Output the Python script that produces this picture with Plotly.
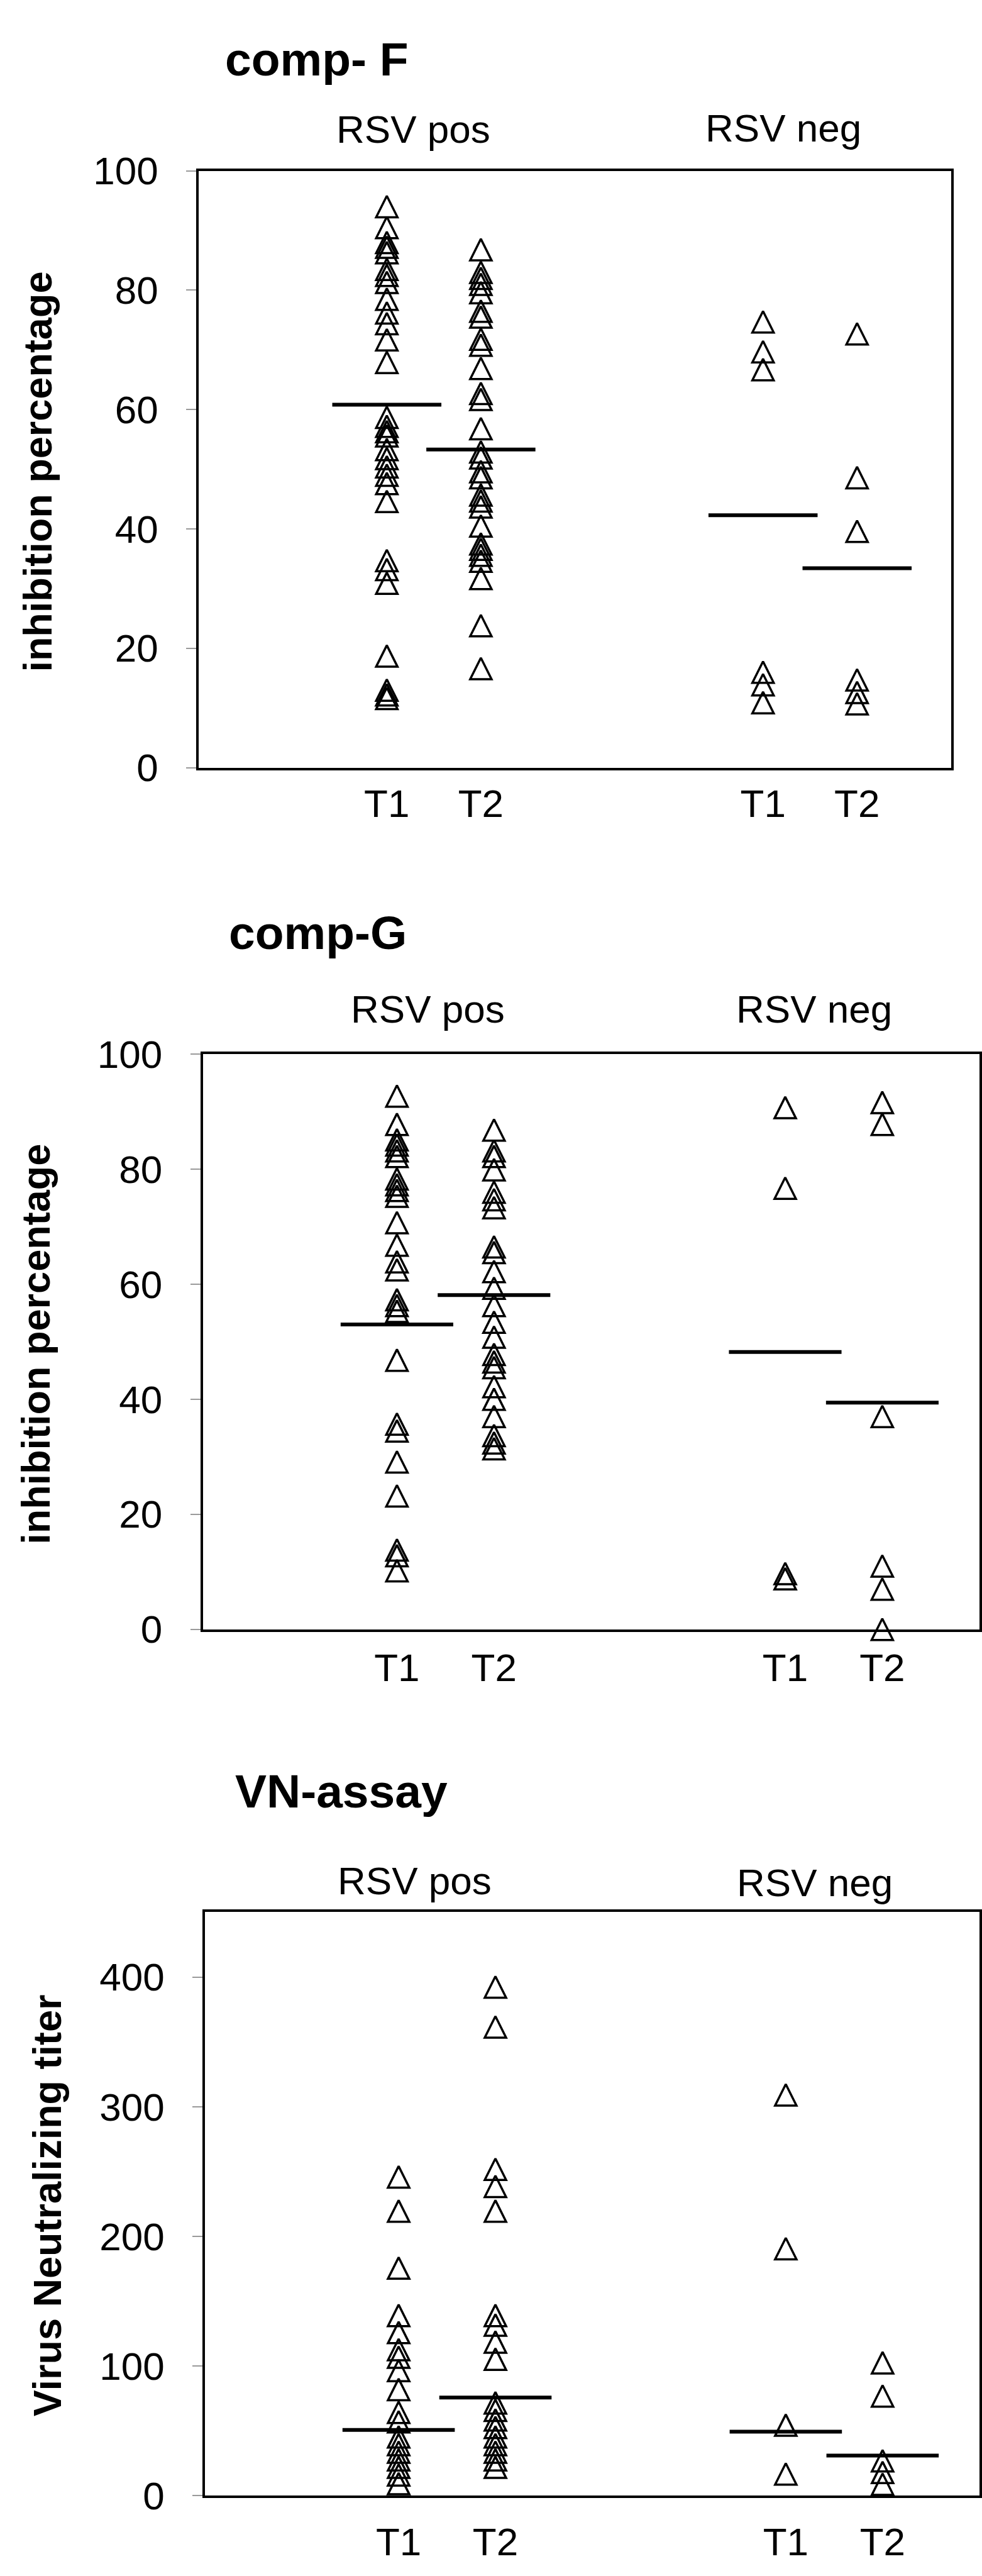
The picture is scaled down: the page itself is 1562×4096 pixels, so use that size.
import plotly.graph_objects as go

# ---------------- data ----------------
positions = [1, 2, 5, 6]
tick_text = ["T1", "T2", "T1", "T2"]
group_labels = ["RSV pos", "RSV neg"]
panel_titles = ["comp- F", "comp-G", "VN-assay"]
y_titles = ["inhibition percentage", "inhibition percentage", "Virus Neutralizing titer"]

# comp- F (inhibition percentage)
compF_T1_pos = [94.0, 90.5, 88.0, 87.2, 86.3, 83.5, 82.5, 81.3, 78.5, 76.2, 74.4, 71.7, 67.9,
                58.7, 57.2, 56.3, 55.6, 53.3, 51.8, 50.4, 49.0, 47.6, 44.6, 34.7, 33.2, 30.9,
                18.7, 13.0, 12.2, 11.6]
compF_T2_pos = [86.8, 83.0, 82.0, 81.0, 79.6, 76.5, 75.5, 71.8, 70.8, 66.9, 62.7, 61.7, 56.8,
                52.9, 51.9, 49.6, 48.6, 45.7, 44.7, 43.7, 40.5, 37.5, 36.6, 35.6, 34.6, 31.7,
                23.8, 16.6]
compF_T1_neg = [74.7, 69.7, 66.7, 16.0, 13.9, 10.9]
compF_T2_neg = [72.7, 48.6, 39.6, 14.7, 12.6, 10.7]
compF_means = [60.8, 53.3, 42.3, 33.4]

# comp-G (inhibition percentage)
compG_T1_pos = [92.7, 87.8, 85.1, 84.2, 83.2, 82.2, 78.3, 77.3, 76.3, 75.3, 70.7, 66.8, 63.9,
                62.5, 57.3, 56.3, 55.3, 46.8, 35.7, 34.5, 29.1, 23.2, 13.8, 12.8, 10.2]
compG_T2_pos = [86.8, 83.2, 82.2, 79.9, 76.0, 74.7, 73.3, 66.5, 65.5, 62.2, 59.3, 56.3, 53.4,
                50.8, 47.8, 46.5, 45.5, 42.2, 40.0, 37.0, 33.7, 32.4, 31.4]
compG_T1_neg = [90.7, 76.7, 9.7, 8.8]
compG_T2_neg = [91.6, 87.8, 37.0, 11.0, 7.0, 0.0]
compG_means = [53.0, 58.1, 48.2, 39.4]

# VN-assay (virus neutralizing titer)
vn_T1_pos = [245.9, 219.6, 175.6, 139.1, 125.9, 112.7, 106.9, 96.6, 82.0, 64.4, 57.1, 45.4,
             39.5, 33.7, 27.8, 22.0, 16.1, 9.4]
vn_T2_pos = [392.3, 361.5, 251.8, 238.6, 219.6, 139.1, 131.7, 118.6, 105.4, 71.7, 65.9, 58.5,
             52.7, 45.4, 39.5, 33.7, 27.8, 22.0]
vn_T1_neg = [309.1, 190.6, 54.5, 16.8]
vn_T2_neg = [102.6, 77.0, 27.0, 18.0, 9.0]
vn_means = [50.8, 75.8, 49.5, 31.0]

panels = [
    dict(groups=[compF_T1_pos, compF_T2_pos, compF_T1_neg, compF_T2_neg], means=compF_means,
         yrange=[0, 100], dtick=20),
    dict(groups=[compG_T1_pos, compG_T2_pos, compG_T1_neg, compG_T2_neg], means=compG_means,
         yrange=[0, 100], dtick=20),
    dict(groups=[vn_T1_pos, vn_T2_pos, vn_T1_neg, vn_T2_neg], means=vn_means,
         yrange=[0, 450], dtick=100),
]

# ---------------- geometry / style (pixels in the 1562x4096 page) ----------------
W, H = 1562, 4096
FONT = "Liberation Sans, Arial, Helvetica, sans-serif"
boxes = [  # left, right, top, bottom
    (316.7, 1515.8, 241.7, 1206.9),
    (323.2, 1560.8, 1670.2, 2600.5),
    (326.8, 1560.8, 3058.0, 4001.9),
]
title_pos = [(357, 61.5), (363, 1473.6), (373, 2862)]
ytitle_pos = [(60, 728), (57, 2139), (75, 3532)]
group_label_pos = [[(659, 174), (1248, 172)], [(682, 1597), (1297, 1597)], [(661, 3007), (1298, 3010)]]
xlabel_standoff = [0, 4, 16]
MEAN_HALF = 0.58
MS = 34
MLW = 3.5


def px(x):
    return x / W


def py(y):
    return 1 - y / H


fig = go.Figure()
annotations = []
layout_axes = {}

for i, p in enumerate(panels):
    sfx = "" if i == 0 else str(i + 1)
    xa, ya = "x" + sfx, "y" + sfx
    for pos, vals in zip(positions, p["groups"]):
        fig.add_trace(go.Scatter(
            x=[pos] * len(vals), y=vals, mode="markers", xaxis=xa, yaxis=ya,
            marker=dict(symbol="arrow-down-open", angle=180, standoff=MS / 2, size=MS,
                        color="black", line=dict(width=MLW, color="black")),
            cliponaxis=False, showlegend=False, hoverinfo="y"))
    for pos, m in zip(positions, p["means"]):
        fig.add_trace(go.Scatter(
            x=[pos - MEAN_HALF, pos + MEAN_HALF], y=[m, m], mode="lines", xaxis=xa, yaxis=ya,
            line=dict(color="black", width=6), cliponaxis=False, showlegend=False,
            hoverinfo="y"))

    l, r, t, b = boxes[i]
    layout_axes["xaxis" + sfx] = dict(
        domain=[px(l), px(r)], range=[-1, 7], anchor=ya,
        tickmode="array", tickvals=positions, ticktext=tick_text, ticks="",
        showline=True, mirror=True, linecolor="black", linewidth=4,
        showgrid=False, zeroline=False, ticklabelstandoff=xlabel_standoff[i],
        tickfont=dict(family=FONT, size=62, color="black"))
    layout_axes["yaxis" + sfx] = dict(
        domain=[py(b), py(t)], range=p["yrange"], dtick=p["dtick"], anchor=xa,
        ticks="outside", ticklen=16, tickwidth=1.5, tickcolor="#9a9a9a",
        showline=True, mirror=True, linecolor="black", linewidth=4,
        showgrid=False, zeroline=False, ticklabelstandoff=32,
        tickfont=dict(family=FONT, size=62, color="black"))

    tx, ty = title_pos[i]
    annotations.append(dict(text="<b>" + panel_titles[i] + "</b>", x=px(tx), y=py(ty),
                            xref="paper", yref="paper", xanchor="left", yanchor="middle",
                            showarrow=False, font=dict(family=FONT, size=75, color="black")))
    yx, yy = ytitle_pos[i]
    annotations.append(dict(text="<b>" + y_titles[i] + "</b>", x=px(yx), y=py(yy),
                            xref="paper", yref="paper", xanchor="center", yanchor="middle",
                            textangle=-90, showarrow=False,
                            font=dict(family=FONT, size=63, color="black")))
    for lab, (gx, gy) in zip(group_labels, group_label_pos[i]):
        annotations.append(dict(text=lab, x=px(gx), y=py(gy), xref="paper", yref="paper",
                                xanchor="center", yanchor="middle", showarrow=False,
                                font=dict(family=FONT, size=62, color="black")))

fig.update_layout(
    width=W, height=H, margin=dict(l=0, r=0, t=0, b=0),
    paper_bgcolor="white", plot_bgcolor="white",
    annotations=annotations, showlegend=False, **layout_axes)

fig.write_html("out.html")
